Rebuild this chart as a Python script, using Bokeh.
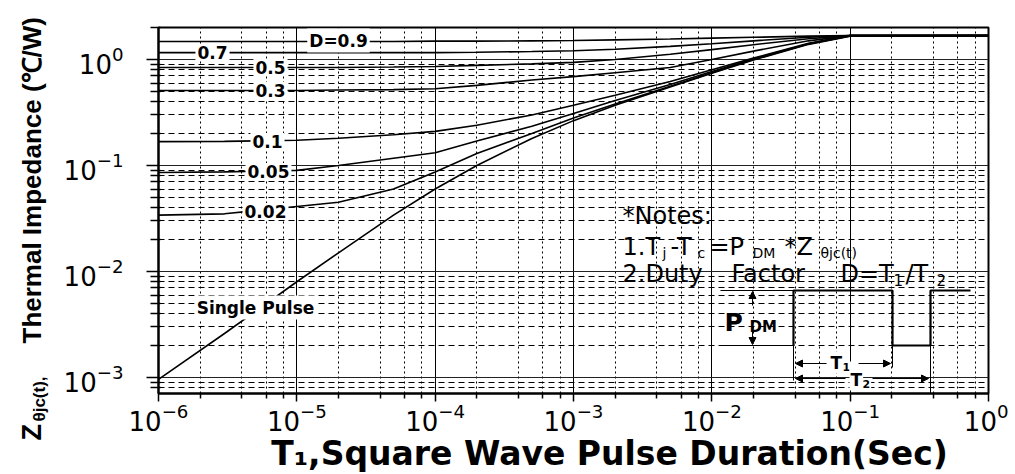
import math
from bokeh.plotting import figure
from bokeh.models import FixedTicker, Label, Arrow, NormalHead
from bokeh.embed import file_html
from bokeh.resources import INLINE

# ---------------- data ----------------
t_sec = [1e-6, 3e-6, 1e-5, 2e-5, 5e-5, 1e-4, 2e-4, 5e-4, 1e-3, 2e-3, 5e-3,
         1e-2, 2e-2, 5e-2, 1e-1, 1.0]
z_d090 = [1.48, 1.48, 1.48, 1.48, 1.48, 1.49, 1.49, 1.50, 1.51, 1.53, 1.56,
          1.59, 1.62, 1.66, 1.68, 1.68]
z_d070 = [1.16, 1.16, 1.16, 1.16, 1.16, 1.16, 1.17, 1.19, 1.21, 1.25, 1.33,
          1.41, 1.50, 1.62, 1.68, 1.68]
z_d050 = [0.84, 0.84, 0.84, 0.84, 0.85, 0.86, 0.88, 0.91, 0.94, 1.00, 1.12,
          1.24, 1.38, 1.57, 1.68, 1.68]
z_d030 = [0.51, 0.51, 0.51, 0.515, 0.52, 0.53, 0.57, 0.64, 0.69, 0.75, 0.84,
          1.00, 1.20, 1.50, 1.68, 1.68]
z_d010 = [0.168, 0.169, 0.173, 0.181, 0.195, 0.21, 0.24, 0.30, 0.37, 0.46, 0.62,
          0.80, 1.03, 1.42, 1.68, 1.68]
z_d005 = [0.086, 0.087, 0.090, 0.100, 0.117, 0.132, 0.17, 0.235, 0.31, 0.41, 0.58,
          0.77, 1.01, 1.41, 1.68, 1.68]
z_d002 = [0.034, 0.035, 0.041, 0.045, 0.060, 0.087, 0.13, 0.20, 0.28, 0.38, 0.56,
          0.75, 1.00, 1.40, 1.67, 1.68]
z_single = [0.00096, 0.0026, 0.0080, 0.015, 0.034, 0.060, 0.10, 0.18, 0.265, 0.37, 0.55,
            0.74, 0.99, 1.39, 1.66, 1.68]

series = [z_d090, z_d070, z_d050, z_d030, z_d010, z_d005, z_d002, z_single]
curve_labels = ["D=0.9", "0.7", "0.5", "0.3", "0.1", "0.05", "0.02", "Single Pulse"]

x_major = [10.0 ** k for k in range(-6, 1)]
x_minor = [m * 10.0 ** k for k in range(-6, 0) for m in (2, 4, 6, 8)]
y_major = [10.0 ** k for k in range(-3, 1)]
y_minor = [m * 10.0 ** k for k in range(-4, 1) for m in range(2, 10)]

x_title = "T\u2081,Square Wave Pulse Duration(Sec)"
y_title = "Thermal Impedance (\u2103/W)"

# ---------------- layout helpers (picture pixel -> data) ----------------
FL, FT, FW, FH = 158, 27, 830, 366
DEC_X = FW / 6.0
DEC_Y = 106.0
Y0 = 59.0  # pixel row of 10^0


def X(px):
    return 10 ** (-6 + (px - FL) / DEC_X)


def Y(py):
    return 10 ** ((Y0 - py) / DEC_Y)


p = figure(x_axis_type="log", y_axis_type="log",
           x_range=(1e-6, 1.0), y_range=(Y(FT + FH), Y(FT)),
           frame_width=FW, frame_height=FH,
           min_border_left=FL, min_border_top=FT,
           min_border_right=20, min_border_bottom=76,
           output_backend="svg", toolbar_location=None,
           background_fill_color="white", border_fill_color="white")

p.xaxis.ticker = FixedTicker(ticks=x_major, minor_ticks=x_minor)
p.yaxis.ticker = FixedTicker(ticks=y_major, minor_ticks=y_minor)

p.xgrid.grid_line_color = "black"
p.xgrid.grid_line_width = 1
p.xgrid.minor_grid_line_color = "black"
p.xgrid.minor_grid_line_dash = "2 3"
p.ygrid.grid_line_color = "#222222"
p.ygrid.grid_line_width = 1
p.ygrid.minor_grid_line_color = "black"
p.ygrid.minor_grid_line_dash = "6 4"

p.outline_line_color = "black"
p.outline_line_width = 2

for ax in (p.xaxis[0], p.yaxis[0]):
    ax.axis_line_color = "black"
    ax.axis_line_width = 2
    ax.major_tick_line_color = "black"
    ax.major_tick_line_width = 1.5
    ax.minor_tick_line_color = "black"
    ax.minor_tick_line_width = 1.5
    ax.major_label_text_font = "DejaVu Sans"
    ax.major_label_text_font_size = "26px"
    ax.major_label_text_color = "black"

p.yaxis.major_tick_out = 12
p.yaxis.major_tick_in = 0
p.yaxis.minor_tick_out = 8
p.yaxis.minor_tick_in = 2
p.yaxis.major_label_standoff = 23
p.xaxis.major_tick_out = 8
p.xaxis.major_tick_in = 0
p.xaxis.minor_tick_out = 5
p.xaxis.minor_tick_in = 0
p.xaxis.major_label_standoff = 1

# ---------------- curves ----------------
for z in series:
    p.line(t_sec, z, line_color="black", line_width=1.6)

# ---------------- curve labels ----------------
label_px = [(338, 40), (212, 52), (270, 67), (270, 90), (267, 141),
            (268, 171), (265, 211), (255, 307)]
for s, (px, py) in zip(curve_labels, label_px):
    p.add_layout(Label(x=X(px), y=Y(py), text=s, text_align="center",
                       text_baseline="middle", text_font="DejaVu Sans",
                       text_font_style="bold", text_font_size="17px",
                       text_color="black", background_fill_color="white",
                       padding=2))


def txt(s, px, py, size="24px", bold=False, align="left", font="DejaVu Sans",
        bg=None, angle=0.0, baseline="middle", place="center"):
    lab = Label(x=X(px), y=Y(py), text=s, text_align=align, text_baseline=baseline,
                text_font=font, text_font_size=size,
                text_font_style="bold" if bold else "normal",
                text_color="black", angle=angle)
    if bg:
        lab.background_fill_color = bg
        lab.padding = 1
    p.add_layout(lab, place)


# notes
txt("*Notes:", 622, 215)
txt("1.T", 622, 246)
txt("j", 662, 252, size="14px")
txt("-T", 670, 246)
txt("c", 697, 252, size="14px")
txt("=P", 709, 246)
txt("DM", 752, 252, size="14px")
txt("*Z", 784, 246)
txt("\u03b8jc(t)", 820, 252, size="14px")
txt("2.Duty", 622, 273)
txt("Factor", 731, 273)
txt("D=T", 840, 273)
txt("1", 893, 279, size="15px")
txt("/T", 905, 273)
txt("2", 936, 279, size="15px")

# pulse diagram
def seg(xs, ys, w=1.0):
    p.line([X(v) for v in xs], [Y(v) for v in ys], line_color="black", line_width=w)


seg([720, 793], [290, 290], 1)
seg([720, 793], [345, 345], 1)
seg([793, 793, 892, 892, 930, 930, 970], [345, 290, 290, 345, 345, 290, 290], 2.2)
seg([793, 793], [345, 380], 1)
seg([892, 892], [345, 367], 1)
seg([930, 930], [345, 393], 1)

head = dict(size=7, fill_color="black", line_color="black")
for (x0, y0, x1, y1) in [(752, 305, 752, 291), (752, 330, 752, 344),
                         (826, 363, 795, 363), (858, 363, 890, 363),
                         (845, 378, 795, 378), (872, 378, 928, 378)]:
    p.add_layout(Arrow(x_start=X(x0), y_start=Y(y0), x_end=X(x1), y_end=Y(y1),
                       end=NormalHead(**head), line_color="black", line_width=1))

txt("P", 724, 322, size="25px", bold=True)
txt("DM", 749, 326, size="15px", bold=True)
txt("T", 829, 362, size="17px", bold=True, bg="white")
txt("1", 841, 366, size="11px", bold=True, bg="white")
txt("T", 849, 379, size="17px", bold=True, bg="white")
txt("2", 861, 383, size="11px", bold=True, bg="white")

# axis titles (placed in side panels so that they are not clipped to the frame;
# their positions are still given in data space)
txt(x_title, 609, 453, size="33px", bold=True, align="center", place="below")

A = math.pi / 2
txt(y_title, 31, 343, size="26px", bold=True, font="Liberation Sans", angle=A,
    baseline="alphabetic", place="left")
txt("Z", 31, 440, size="27px", bold=True, font="Liberation Sans", angle=A,
    baseline="alphabetic", place="left")
txt("\u03b8jc(t),", 39, 421, size="17px", bold=True, font="Liberation Sans", angle=A,
    baseline="alphabetic", place="right")

open("out.html", "w").write(file_html(p, INLINE))
